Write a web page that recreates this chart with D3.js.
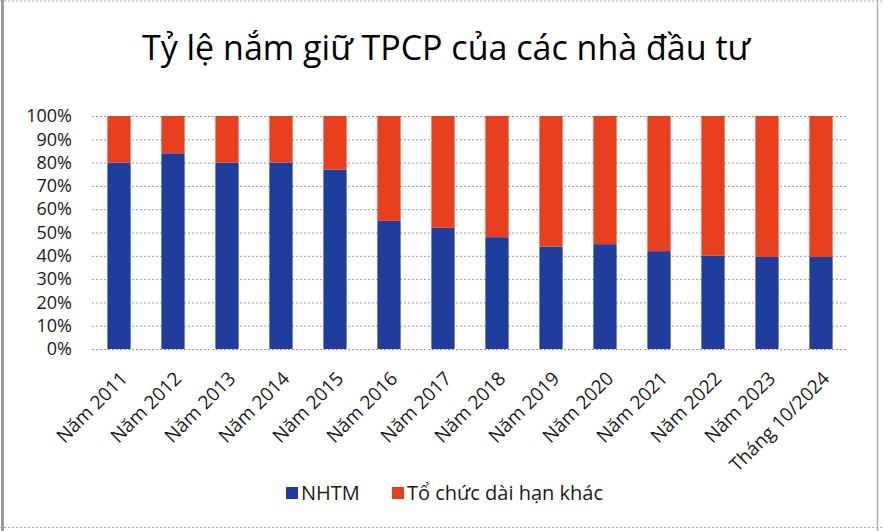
<!DOCTYPE html>
<html><head><meta charset="utf-8">
<script src="https://cdn.jsdelivr.net/npm/d3@7"></script>
<style>
html,body{margin:0;padding:0;background:#fff;}
svg{display:block;font-family:"Open Sans","Liberation Sans",sans-serif;}
</style></head>
<body>
<svg id="c" width="883" height="531"></svg>
<script>
const categories = ["Năm 2011","Năm 2012","Năm 2013","Năm 2014","Năm 2015","Năm 2016","Năm 2017","Năm 2018","Năm 2019","Năm 2020","Năm 2021","Năm 2022","Năm 2023","Tháng 10/2024"];
const nhtm = [80, 84, 80, 80, 77, 55, 52, 48, 44, 45, 42, 40, 39.5, 39.5];
const other = nhtm.map(v => 100 - v);
const seriesNames = ["NHTM", "Tổ chức dài hạn khác"];
const seriesColors = ["#1f3d9c", "#e8401f"];
const yTicks = [0,10,20,30,40,50,60,70,80,90,100];
const title = "Tỷ lệ nắm giữ TPCP của các nhà đầu tư";

const svg = d3.select("#c");
const W = 883, H = 531;
const m = {left: 92, right: 35, top: 116, bottom: 182};

// outer frame
svg.append("line").attr("x1",2.5).attr("x2",2.5).attr("y1",0).attr("y2",H).attr("stroke","#9a9a9a").attr("stroke-width",3);
svg.append("line").attr("x1",877.5).attr("x2",877.5).attr("y1",0).attr("y2",H).attr("stroke","#b0b0b0").attr("stroke-width",1.5);
svg.append("line").attr("x1",0).attr("x2",W).attr("y1",1).attr("y2",1).attr("stroke","#aaa").attr("stroke-dasharray","2,2");
svg.append("line").attr("x1",0).attr("x2",W).attr("y1",527.5).attr("y2",527.5).attr("stroke","#aaa").attr("stroke-dasharray","2,2");

const x = d3.scaleBand().domain(categories).range([m.left, W - m.right]).paddingInner(0.57).paddingOuter(0.285);
const y = d3.scaleLinear().domain([0,100]).range([H - m.bottom, m.top]);

// gridlines
svg.append("g").selectAll("line").data(yTicks).join("line")
  .attr("x1", m.left).attr("x2", W - m.right)
  .attr("y1", d => y(d) + 0.5).attr("y2", d => y(d) + 0.5)
  .attr("stroke", "#9a9a9a").attr("stroke-width", 1).attr("stroke-dasharray", "2,2");

// stacked data
const rows = categories.map((c,i) => ({cat: c, NHTM: nhtm[i], other: other[i]}));
const stack = d3.stack().keys(["NHTM","other"])(rows);
svg.append("g").selectAll("g").data(stack).join("g")
  .attr("fill", (d,i) => seriesColors[i])
  .selectAll("rect").data(d => d).join("rect")
  .attr("x", d => x(d.data.cat))
  .attr("width", x.bandwidth())
  .attr("y", d => y(d[1]))
  .attr("height", d => y(d[0]) - y(d[1]));

// y axis labels
const yAxis = d3.axisLeft(y).tickValues(yTicks).tickFormat(d => d + "%").tickSize(0).tickPadding(0);
const ya = svg.append("g").attr("transform", `translate(${72},0)`).call(yAxis);
ya.select(".domain").remove();
ya.selectAll("text").attr("font-size", 18).attr("fill", "#1a1a1a").attr("font-family", "Open Sans, sans-serif");

// x axis labels
const xAxis = d3.axisBottom(x).tickSize(0).tickPadding(0);
const xa = svg.append("g").attr("transform", `translate(0,${H - m.bottom})`).call(xAxis);
xa.select(".domain").remove();
xa.selectAll("text")
  .attr("font-size", 19).attr("fill", "#1a1a1a").attr("font-family", "Open Sans, sans-serif")
  .attr("text-anchor", "end").attr("dy", "0.35em").attr("dx", 0).attr("y", 0)
  .attr("transform", "translate(5,26) rotate(-45)");

// title
svg.append("text").attr("x", 446).attr("y", 60).attr("text-anchor", "middle")
  .attr("font-size", 34).attr("fill", "#000").text(title);

// legend
const leg = svg.append("g");
const legX = [286, 392];
seriesNames.forEach((n,i) => {
  leg.append("rect").attr("x", legX[i]).attr("y", 487).attr("width", 12).attr("height", 12).attr("fill", seriesColors[i]);
  leg.append("text").attr("x", legX[i] + 15).attr("y", 493).attr("dy","0.35em")
    .attr("font-size", 20).attr("fill", "#1a1a1a").text(n);
});
</script>
</body></html>
